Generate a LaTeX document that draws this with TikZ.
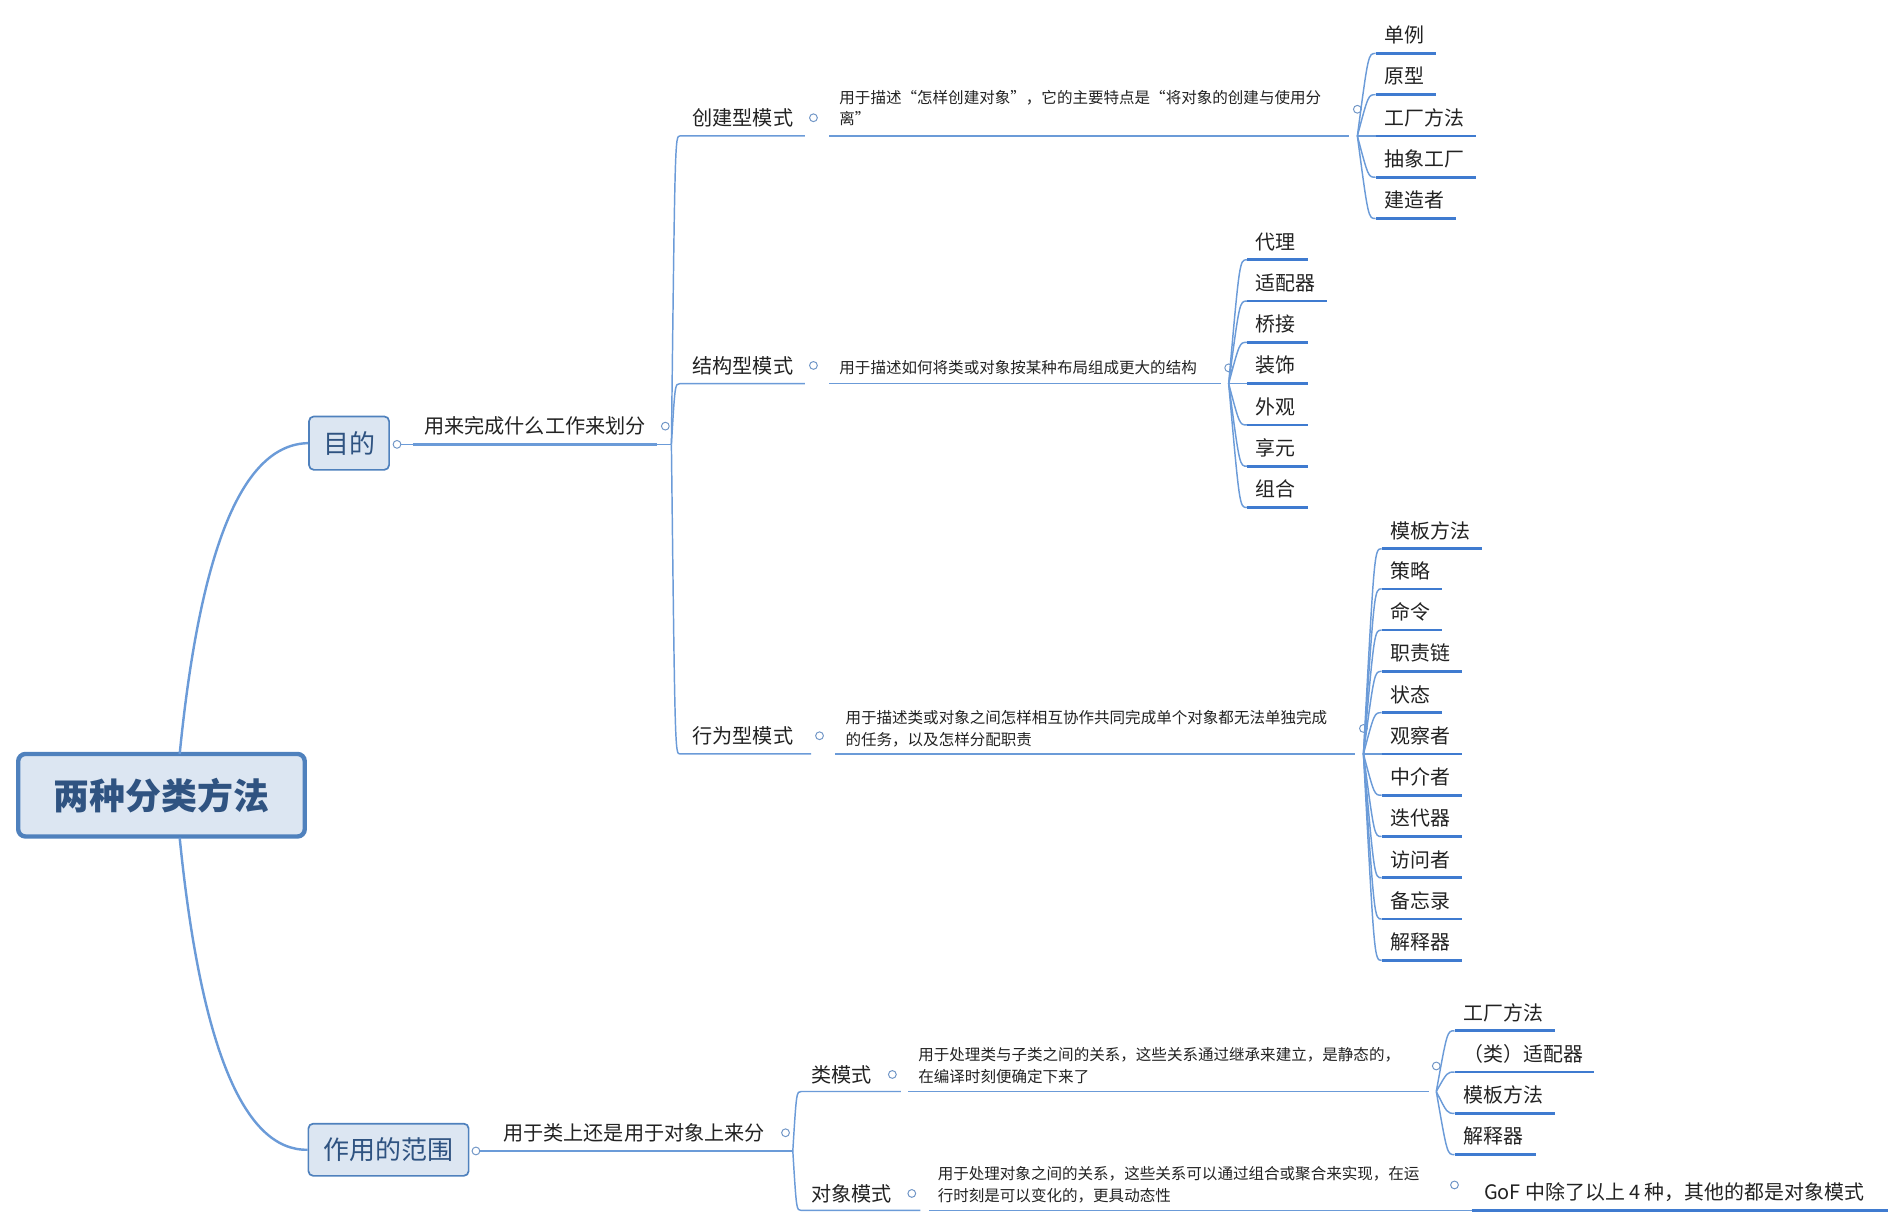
\documentclass[tikz,border=0pt]{standalone}
\usepackage{fontspec}
\setmainfont{Noto Sans CJK SC}
\definecolor{ln}{HTML}{6B9BD8}
\definecolor{ul}{HTML}{3F7BD0}
\definecolor{tx}{HTML}{222222}
\definecolor{rootfill}{HTML}{DCE6F2}
\definecolor{rootdraw}{HTML}{4F81BD}
\definecolor{roottxt}{HTML}{2F5381}
\tikzset{
 cat/.style={font=\fontsize{8.3}{10}\selectfont,text=tx,inner sep=0pt,anchor=west},
 leaf/.style={font=\fontsize{8.2}{10}\selectfont,text=tx,inner sep=0pt,anchor=west},
 desc/.style={font=\fontsize{6.4}{9}\selectfont,text=tx,inner sep=0pt,anchor=west,align=left},
 conn/.style={draw=ln,line width=0.6pt},
 uline/.style={draw=ul,line width=1.1pt},
 knob/.style={circle,draw=ln!80!gray,line width=0.4pt,minimum size=3.2pt,inner sep=0pt},
 lbox/.style={draw=rootdraw,fill=rootfill,line width=0.7pt,rounded corners=2pt,text=roottxt,font=\fontsize{10.7}{12}\selectfont,inner sep=0pt}
}
\begin{document}
\begin{tikzpicture}[x=0.5pt,y=-0.5pt]
\useasboundingbox (0,0) rectangle (1560,1005);
% root
\node[draw=rootdraw,fill=rootfill,line width=1.8pt,rounded corners=3pt,minimum width=118pt,minimum height=34pt,text=roottxt,font=\bfseries\fontsize{14.8}{16}\selectfont] (root) at (133,655) {两种分类方法};
\node[lbox,minimum width=33pt,minimum height=22pt] (mu) at (287.5,365) {目的};
\node[lbox,minimum width=66pt,minimum height=21.5pt] (fw) at (320,947) {作用的范围};
\draw[conn,line width=1pt] (148,621) .. controls (165,450) and (200,366) .. (mu.west);
\draw[conn,line width=1pt] (148,690) .. controls (165,860) and (200,948) .. (fw.west);
% purpose
\node[knob] (k0) at (327,366) {};
\node[cat] (t0) at (349,351) {用来完成什么工作来划分};
\draw[conn] (k0) -- (340,366);
\draw[uline,draw=ln] (340,366) -- (541,366);
\node[knob] (k1) at (548,351) {};
\coordinate (h1) at (553,366);
\draw[conn] (541,366) -- (h1);
% categories
\foreach \nm/\txt/\y/\ky/\e in {c1/创建型模式/97/97/663,c2/结构型模式/301/301/663,c3/行为型模式/606/606/668}{
  \pgfmathsetmacro\uy{\y+15}
  \node[cat] (\nm) at (570,\y) {\txt};
  \draw[conn] (h1) .. controls (556,\uy) .. (560,\uy) -- (\e,\uy);
  \node[knob] (k\nm) at (\e+7,\y) {};
}
\node[desc] (d1) at (691,89) {用于描述“怎样创建对象”，它的主要特点是“将对象的创建与使用分\\离”};
\draw[conn] (683,112) -- (1111,112);
\node[knob] (kd1) at (1118,90) {};
\node[desc] (d2) at (691,303) {用于描述如何将类或对象按某种布局组成更大的结构};
\draw[conn] (683,316) -- (1006,316);
\node[knob] (kd2) at (1012,303) {};
\node[desc] (d3) at (696,600) {用于描述类或对象之间怎样相互协作共同完成单个对象都无法单独完成\\的任务，以及怎样分配职责};
\draw[conn] (688,621) -- (1116,621);
\node[knob] (kd3) at (1123,600) {};
% leaves creational
\coordinate (hc) at (1118,112);
\foreach \txt/\y/\e in {单例/29/1183,原型/63/1183,工厂方法/97/1216,抽象工厂/131/1216,建造者/165/1199}{
  \pgfmathsetmacro\uy{\y+15}
  \node[leaf] (l) at (1140,\y) {\txt};
  \draw[conn] (hc) .. controls (1127,\uy) .. (1133,\uy);
  \draw[uline] (1133,\uy) -- (\e,\uy);
}
\coordinate (hs) at (1012,316);
\foreach \txt/\y/\e in {代理/199/1077,适配器/233/1093,桥接/267/1077,装饰/301/1077,外观/335/1077,享元/369/1077,组合/403/1077}{
  \pgfmathsetmacro\uy{\y+15}
  \node[leaf] (l) at (1034,\y) {\txt};
  \draw[conn] (hs) .. controls (1021,\uy) .. (1027,\uy);
  \draw[uline] (1027,\uy) -- (\e,\uy);
}
\coordinate (hb) at (1123,621);
\foreach \txt/\y/\e in {模板方法/437/1221,策略/470/1188,命令/504/1188,职责链/538/1204,状态/572/1188,观察者/606/1204,中介者/640/1204,迭代器/674/1204,访问者/708/1204,备忘录/742/1204,解释器/776/1204}{
  \pgfmathsetmacro\uy{\y+15}
  \node[leaf] (l) at (1145,\y) {\txt};
  \draw[conn] (hb) .. controls (1132,\uy) .. (1138,\uy);
  \draw[uline] (1138,\uy) -- (\e,\uy);
}
% scope
\node[knob] (k2) at (392,948) {};
\node[cat] (t2) at (414,933) {用于类上还是用于对象上来分};
\draw[conn] (k2) -- (405,948);
\draw[uline,draw=ln] (405,948) -- (640,948);
\node[knob] (k3) at (647,933) {};
\coordinate (h2) at (653,948);
\draw[conn] (640,948) -- (h2);
\node[cat] (s1) at (668,885) {类模式};
\draw[conn] (h2) .. controls (656,899) .. (660,899) -- (742,899);
\node[knob] (ks1) at (735,885) {};
\node[cat] (s2) at (668,983) {对象模式};
\draw[conn] (h2) .. controls (656,997) .. (660,997) -- (758,997);
\node[knob] (ks2) at (751,983) {};
\node[desc] (e1) at (756,878) {用于处理类与子类之间的关系，这些关系通过继承来建立，是静态的，\\在编译时刻便确定下来了};
\draw[conn] (748,899) -- (1177,899);
\node[knob] (ke1) at (1183,878) {};
\node[desc] (e2) at (772,976) {用于处理对象之间的关系，这些关系可以通过组合或聚合来实现，在运\\行时刻是可以变化的，更具动态性};
\draw[conn] (765,997) -- (1190,997);
\node[knob] (ke2) at (1198,976) {};
\coordinate (hk) at (1183,899);
\foreach \txt/\y/\e in {工厂方法/834/1281,（类）适配器/868/1313,模板方法/902/1281,解释器/936/1265}{
  \pgfmathsetmacro\uy{\y+15}
  \node[leaf] (l) at (1205,\y) {\txt};
  \draw[conn] (hk) .. controls (1192,\uy) .. (1198,\uy);
  \draw[uline] (1198,\uy) -- (\e,\uy);
}
\node[leaf] (g) at (1222,982) {GoF 中除了以上 4 种，其他的都是对象模式};
\draw[conn] (1190,997) -- (1212,997);
\draw[uline] (1212,997) -- (1555,997);
\end{tikzpicture}
\end{document}
